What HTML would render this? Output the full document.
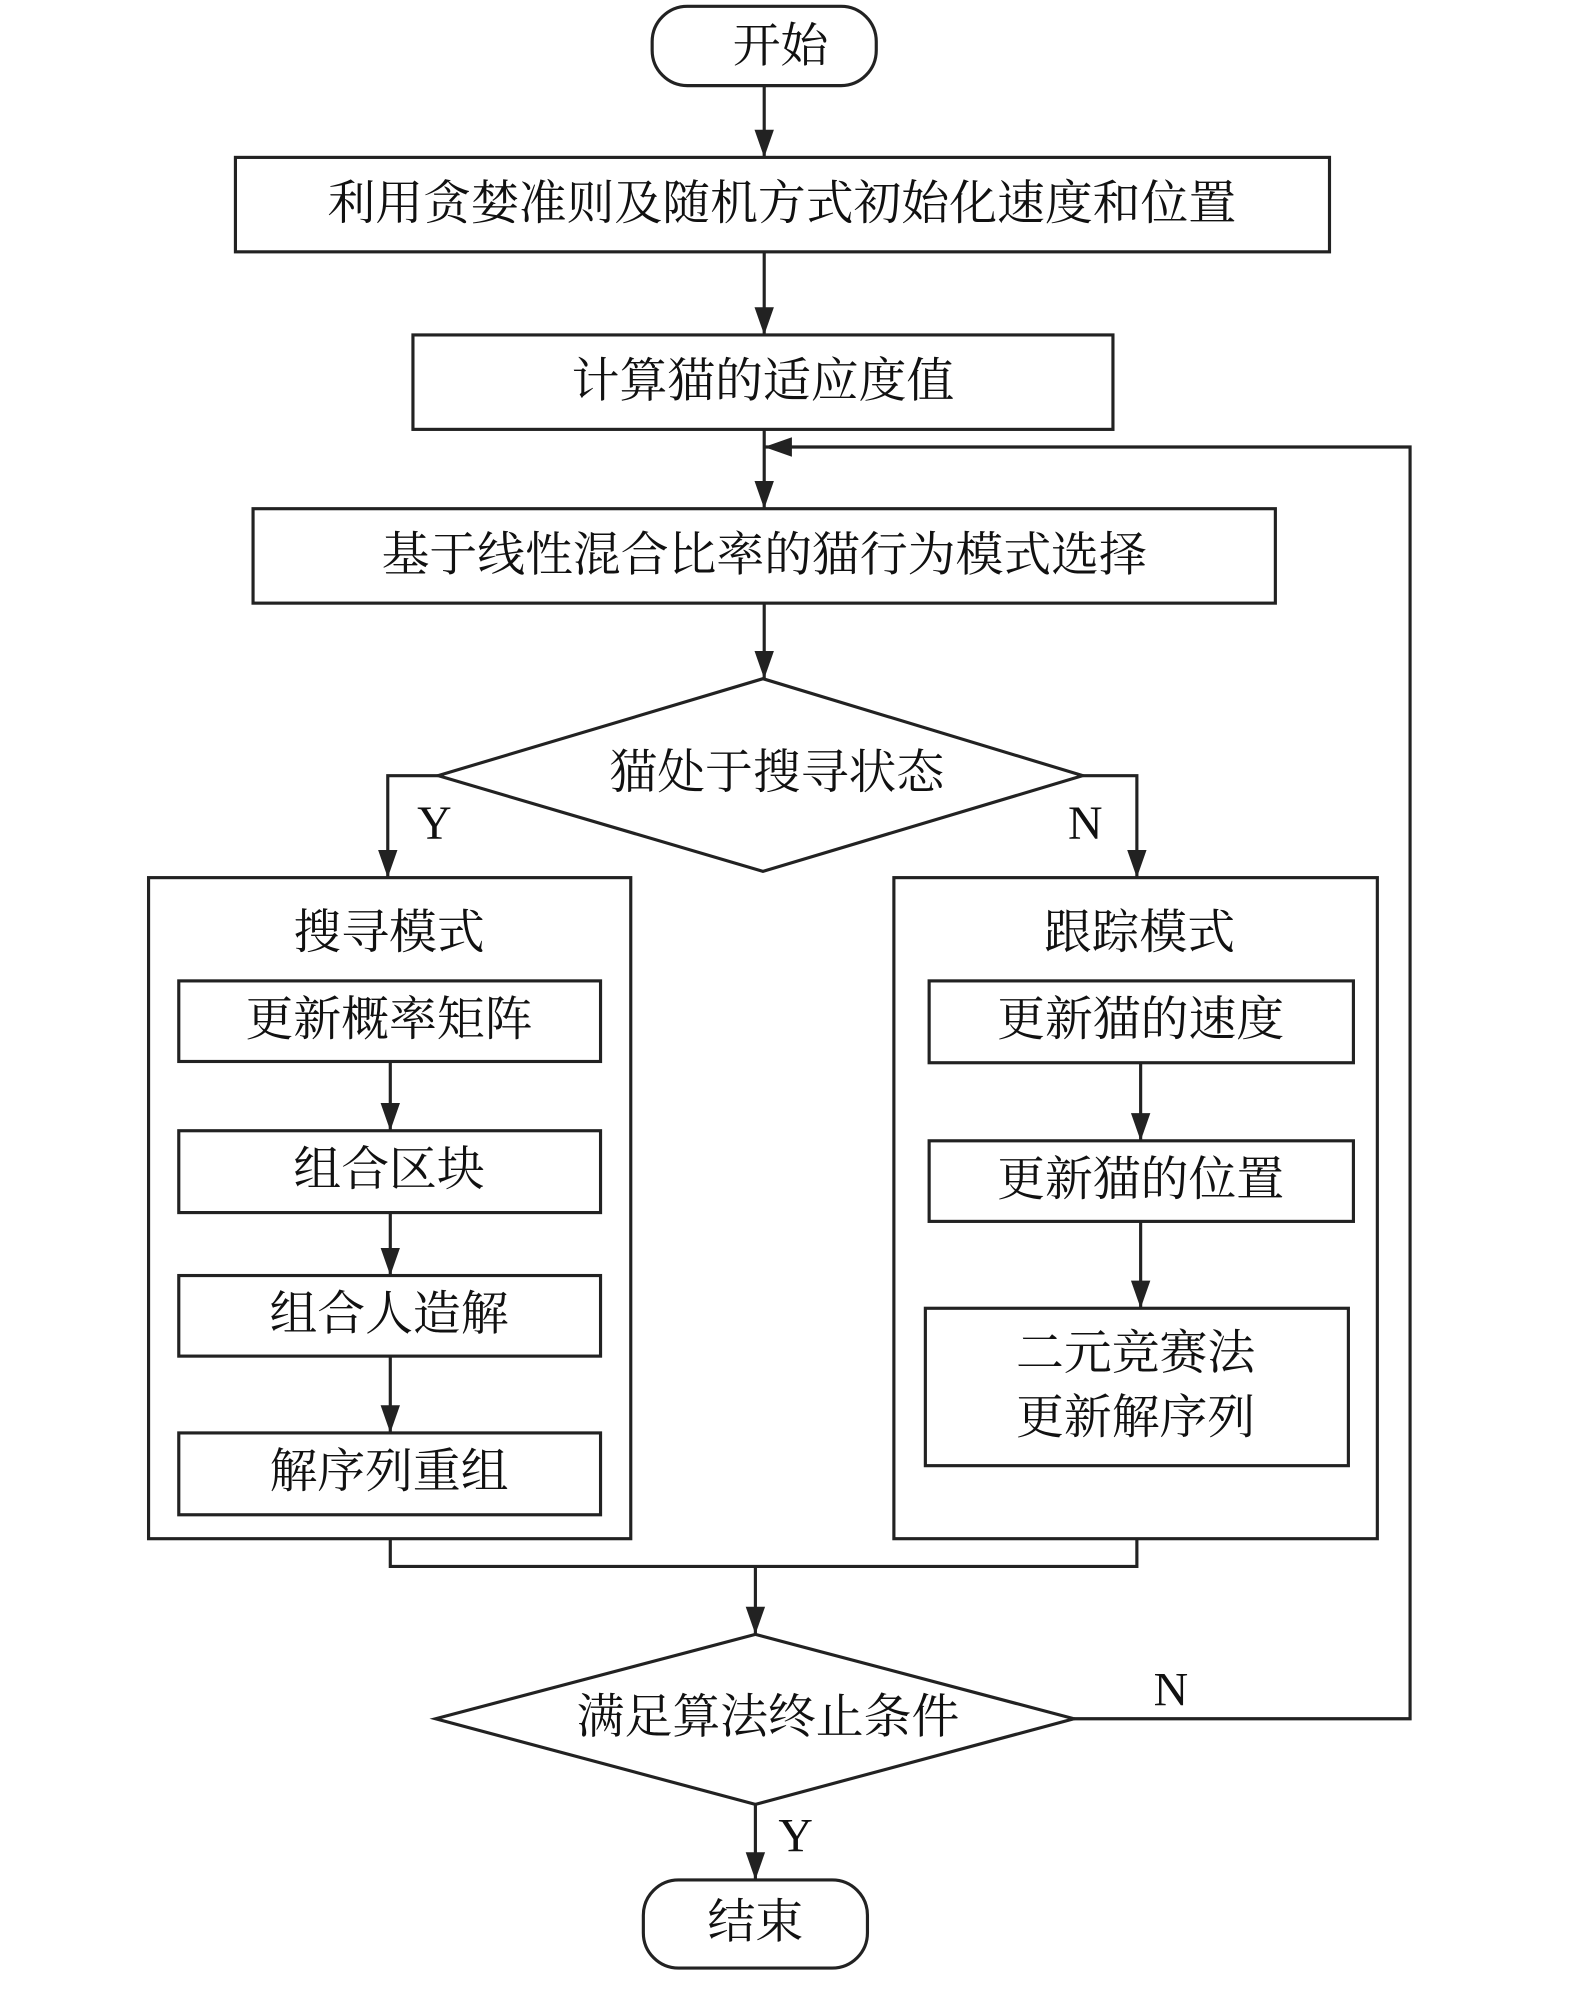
<!DOCTYPE html>
<html><head><meta charset="utf-8"><style>
html,body{margin:0;padding:0;background:#fff;}
svg{display:block;}
text{font-family:"Liberation Serif","Noto Serif CJK SC",serif;font-size:38px;fill:#111;text-anchor:middle;dominant-baseline:central;}
</style></head><body>
<svg width="1575" height="1992" viewBox="0 0 1251 1582" preserveAspectRatio="none" xmlns="http://www.w3.org/2000/svg">
<defs><marker id="a" markerWidth="10" markerHeight="10" refX="9" refY="5" orient="auto" markerUnits="userSpaceOnUse" viewBox="0 0 10 10"><path d="M0,0 L10,5 L0,10 z" fill="#222"/></marker>
<marker id="b" viewBox="0 0 10 10" refX="10" refY="5" markerWidth="22" markerHeight="22" orient="auto" markerUnits="userSpaceOnUse"><path d="M0,1.5 L10,5 L0,8.5 z" fill="#222"/></marker></defs>
<g fill="none" stroke="#222" stroke-width="2.5">
<rect x="518" y="5" width="178" height="63" rx="28"/>
<rect x="187" y="125" width="869" height="75"/>
<rect x="328" y="266" width="556" height="75"/>
<rect x="201" y="404" width="812" height="75"/>
<polygon points="348,616 606,539 860,616 606,692"/>
<rect x="118" y="697" width="383" height="525"/>
<rect x="142" y="779" width="335" height="64"/>
<rect x="142" y="898" width="335" height="65"/>
<rect x="142" y="1013" width="335" height="64"/>
<rect x="142" y="1138" width="335" height="65"/>
<rect x="710" y="697" width="384" height="525"/>
<rect x="738" y="779" width="337" height="65"/>
<rect x="738" y="906" width="337" height="64"/>
<rect x="735" y="1039" width="336" height="125"/>
<polygon points="346,1365 600,1298 853,1365 600,1433"/>
<rect x="511" y="1493" width="178" height="70" rx="28"/>
<path d="M607,68 V125" marker-end="url(#b)"/>
<path d="M607,200 V266" marker-end="url(#b)"/>
<path d="M607,341 V404" marker-end="url(#b)"/>
<path d="M607,479 V539" marker-end="url(#b)"/>
<path d="M348,616 H308 V697" marker-end="url(#b)"/>
<path d="M860,616 H903 V697" marker-end="url(#b)"/>
<path d="M310,843 V898" marker-end="url(#b)"/>
<path d="M310,963 V1013" marker-end="url(#b)"/>
<path d="M310,1077 V1138" marker-end="url(#b)"/>
<path d="M906,844 V906" marker-end="url(#b)"/>
<path d="M906,970 V1039" marker-end="url(#b)"/>
<path d="M310,1222 V1244 H903 V1222"/>
<path d="M600,1244 V1298" marker-end="url(#b)"/>
<path d="M853,1365 H1120 V355 H607" marker-end="url(#b)"/>
<path d="M600,1433 V1493" marker-end="url(#b)"/>
</g>
<text x="620" y="37">开始</text>
<text x="621" y="162">利用贪婪准则及随机方式初始化速度和位置</text>
<text x="606" y="303">计算猫的适应度值</text>
<text x="607" y="441">基于线性混合比率的猫行为模式选择</text>
<text x="617" y="614">猫处于搜寻状态</text>
<text x="345" y="654">Y</text>
<text x="862" y="654">N</text>
<text x="309" y="741">搜寻模式</text>
<text x="309" y="810">更新概率矩阵</text>
<text x="309" y="929">组合区块</text>
<text x="309" y="1044">组合人造解</text>
<text x="309" y="1169">解序列重组</text>
<text x="905" y="741">跟踪模式</text>
<text x="906" y="810">更新猫的速度</text>
<text x="906" y="937">更新猫的位置</text>
<text x="902" y="1075">二元竞赛法</text>
<text x="902" y="1126">更新解序列</text>
<text x="610" y="1364">满足算法终止条件</text>
<text x="930" y="1342">N</text>
<text x="632" y="1458">Y</text>
<text x="600" y="1527">结束</text>
</svg>
</body></html>
